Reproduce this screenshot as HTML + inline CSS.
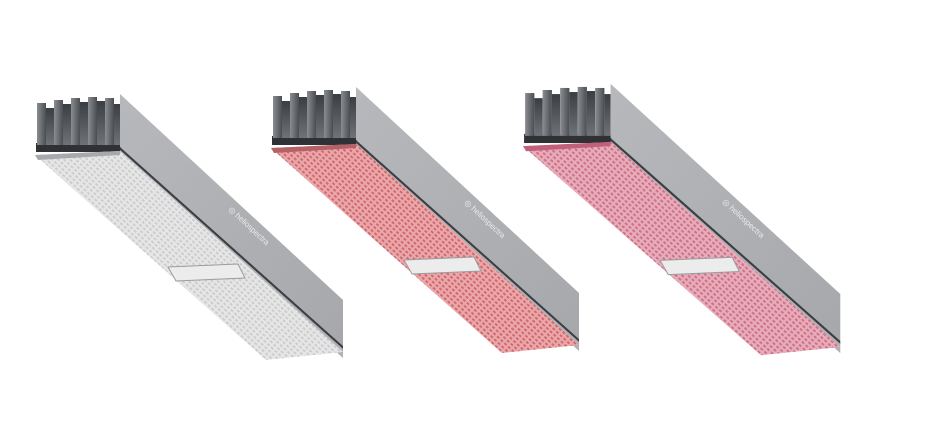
<!DOCTYPE html>
<html><head><meta charset="utf-8"><style>
html,body{margin:0;padding:0;background:#fff;}
svg{display:block;}
</style></head><body>
<svg width="940" height="443" viewBox="0 0 940 443" xmlns="http://www.w3.org/2000/svg">
<defs>
<linearGradient id="fin" x1="0" y1="0" x2="0" y2="1">
<stop offset="0" stop-color="#3a3d42"/><stop offset="1" stop-color="#6f7277"/></linearGradient>
<linearGradient id="fin2" x1="0" y1="0" x2="1" y2="0">
<stop offset="0" stop-color="#8a8d91"/><stop offset="1" stop-color="#4a4d52"/></linearGradient>
<linearGradient id="pan" x1="0" y1="0" x2="1" y2="1">
<stop offset="0" stop-color="#b6b8bb"/><stop offset="1" stop-color="#a6a8ab"/></linearGradient>
<pattern id="gw" width="5" height="4" patternUnits="userSpaceOnUse" patternTransform="rotate(43)">
<rect width="5" height="4" fill="#e6e6e6"/><rect width="3" height="2" fill="#cdcdcf"/></pattern>
<pattern id="gr" width="5" height="4" patternUnits="userSpaceOnUse" patternTransform="rotate(43)">
<rect width="5" height="4" fill="#eba8aa"/><rect width="3" height="2" fill="#d06a70"/></pattern>
<pattern id="gp" width="5" height="4" patternUnits="userSpaceOnUse" patternTransform="rotate(43)">
<rect width="5" height="4" fill="#e8adbb"/><rect width="3" height="2" fill="#cf7288"/></pattern>
<g id="body">
<rect x="36" y="143" width="85" height="9" fill="#2f3135"/>
<rect x="37" y="103" width="9" height="42" fill="url(#fin2)"/>
<rect x="46" y="108" width="8" height="37" fill="url(#fin)"/>
<rect x="54" y="100" width="9" height="45" fill="url(#fin2)"/>
<rect x="63" y="104" width="8" height="41" fill="url(#fin)"/>
<rect x="71" y="98" width="9" height="47" fill="url(#fin2)"/>
<rect x="80" y="102" width="8" height="43" fill="url(#fin)"/>
<rect x="88" y="97" width="9" height="48" fill="url(#fin2)"/>
<rect x="97" y="101" width="8" height="44" fill="url(#fin)"/>
<rect x="105" y="98" width="9" height="47" fill="url(#fin2)"/>
<rect x="114" y="104" width="6" height="41" fill="url(#fin)"/>
<polygon points="120,94 343,300 343,346 120,147" fill="url(#pan)"/>
<polygon points="120,147 343,346 343,349 120,150" fill="#3b3e42"/>
<polygon points="120,150 343,349 343,358 120,157" fill="#aeb0b3"/>
</g>
<g id="bracket">
<polygon points="168,267 238,264 245,278 176,281" fill="#ececed" stroke="#9a9c9f" stroke-width="1"/>
</g>
</defs>

<g>
<use href="#body"/>
<polygon points="35,155 120,151 343,352 266,360" fill="url(#gw)"/>
<polygon points="35,155 120,151 120,155 38,160" fill="#a7a9ac"/>
<use href="#bracket"/>
<text x="0" y="0" transform="translate(228,210) rotate(43)" font-family="Liberation Sans, sans-serif" font-size="8" fill="#e9eaeb">◎ heliospectra</text>
</g>

<g transform="translate(236,-7)">
<use href="#body"/>
<polygon points="35,155 120,151 343,352 266,360" fill="url(#gr)"/>
<polygon points="35,155 120,151 120,155 38,160" fill="#b56168"/>
<use href="#bracket"/>
<text x="0" y="0" transform="translate(228,210) rotate(43)" font-family="Liberation Sans, sans-serif" font-size="8" fill="#e9eaeb">◎ heliospectra</text>
</g>

<g transform="translate(487,-12) scale(1.03,1.02)">
<use href="#body"/>
<polygon points="35,155 120,151 343,352 266,360" fill="url(#gp)"/>
<polygon points="35,155 120,151 120,155 38,160" fill="#c0607a"/>
<use href="#bracket"/>
<text x="0" y="0" transform="translate(228,210) rotate(43)" font-family="Liberation Sans, sans-serif" font-size="8" fill="#e9eaeb">◎ heliospectra</text>
</g>
</svg>
</body></html>
